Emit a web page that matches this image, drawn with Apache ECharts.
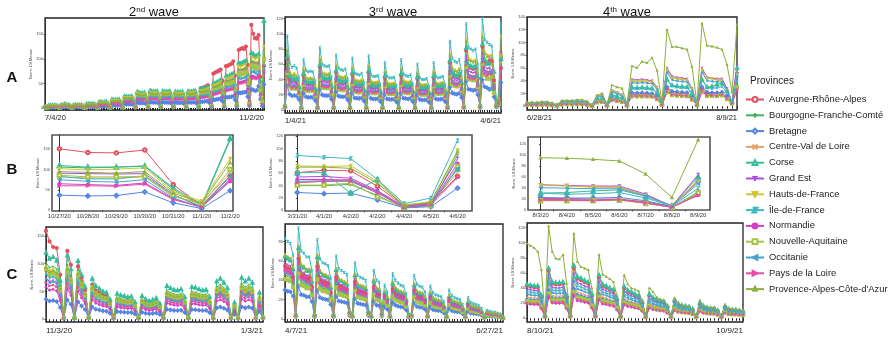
<!DOCTYPE html>
<html>
<head>
<meta charset="utf-8">
<script src="https://cdn.jsdelivr.net/npm/echarts@6/dist/echarts.min.js"></script>
<style>
  html, body { margin: 0; padding: 0; background: #fff; }
  #chart { width: 892px; height: 338px; }
</style>
</head>
<body>
<div id="chart"></div>
<script>
// provinces, colours, markers
const provinces = ['Auvergne-Rhône-Alpes', 'Bourgogne-Franche-Comté', 'Bretagne', 'Centre-Val de Loire', 'Corse',
  'Grand Est', 'Hauts-de-France', 'Île-de-France', 'Normandie', 'Nouvelle-Aquitaine', 'Occitanie',
  'Pays de la Loire', "Provence-Alpes-Côte-d'Azur"];
const colors = ['#e2505f', '#45b060', '#5585e2', '#e6a066', '#35bd9c', '#ad4ce4', '#cfc634', '#3fb8c0',
  '#d23fc4', '#a6c446', '#4aa2d0', '#e64ca6', '#8db03c'];
const symbols = ['emptyCircle', 'path://M5,0L5,10M0,5L10,5', 'emptyDiamond', 'path://M0,0L10,10M10,0L0,10',
  'emptyTriangle', 'path://M0,0L5,5L10,0M5,5L5,10', 'path://M0,0L10,0L5,9Z', 'path://M0,0L10,0L0,10L10,10',
  'circle', 'emptyRect', 'path://M10,0L0,5L10,10Z', 'path://M0,0L10,5L0,10Z', 'path://M0,10L5,0L10,10'];

// x tick labels
const a2Dates = ['7/4/20', '11/2/20'];
const a3Dates = ['1/4/21', '4/6/21'];
const a4Dates = ['6/28/21', '8/9/21'];
const b2Dates = ['10/27/20', '10/28/20', '10/29/20', '10/30/20', '10/31/20', '11/1/20', '11/2/20'];
const b3Dates = ['3/31/20', '4/1/20', '4/2/20', '4/2/20', '4/4/20', '4/5/20', '4/6/20'];
const b4Dates = ['8/3/20', '8/4/20', '8/5/20', '8/6/20', '8/7/20', '8/8/20', '8/9/20'];
const c2Dates = ['11/3/20', '1/3/21'];
const c3Dates = ['4/7/21', '6/27/21'];
const c4Dates = ['8/10/21', '10/9/21'];

// y tick labels
const yTicks50 = [0, 50, 100, 150];
const yTicks20 = [0, 20, 40, 60, 80, 100, 120];
const yTicks20b = [0, 20, 40, 60, 80, 100, 120, 140];
const yTicksC3 = [0, 20, 40, 60, 80];

// ---- 2nd wave, daily level of the top band and the share of each province ----
const a2Level = [3, 1,
  5, 5, 5, 5, 5, 4, 1,
  6, 6, 8, 6, 6, 4, 1,
  6, 6, 6, 6, 6, 4, 1,
  8, 8, 8, 8, 8, 6, 1,
  12, 12, 11, 12, 12, 8, 2,
  17, 16, 16, 16, 17, 12, 2,
  24, 23, 23, 23, 24, 17, 3,
  33, 31, 30, 30, 31, 22, 4,
  35, 34, 33, 33, 34, 24, 4,
  34, 33, 33, 33, 34, 24, 4,
  33, 32, 32, 32, 33, 23, 4,
  34, 33, 33, 34, 35, 24, 4,
  38, 38, 39, 40, 42, 29, 5,
  50, 50, 52, 54, 57, 40, 6,
  65, 64, 66, 68, 70, 49, 8,
  92, 90, 92, 94, 96, 67, 10,
  112];
const a2Share = [0.9, 0.96, 0.34, 0.74, 1.0, 0.83, 0.93, 0.74, 0.58, 0.76, 0.66, 0.55, 0.86];
// Auvergne-Rhône-Alpes from day 86 on
const a2AuvergneLate = [40, 41, 42, 44, 46, 32, 6,
  70, 72, 74, 76, 78, 55, 8,
  85, 86, 88, 90, 95, 66, 10,
  118, 120, 122, 120, 125, 88, 12,
  169];
// last week (10/27 - 11/2)
const b2Values = [
  [151, 142, 141, 148, 63, 11, 85],
  [106, 104, 106, 108, 51, 11, 173],
  [37, 35, 36, 45, 18, 4, 48],
  [82, 79, 79, 82, 33, 18, 91],
  [110, 106, 106, 109, 55, 14, 177],
  [91, 90, 89, 90, 38, 8, 83],
  [102, 99, 101, 104, 46, 22, 126],
  [83, 77, 77, 85, 38, 8, 85],
  [65, 63, 61, 67, 28, 8, 71],
  [86, 82, 82, 83, 36, 14, 100],
  [75, 71, 69, 75, 30, 6, 77],
  [60, 60, 59, 64, 26, 8, 75],
  [95, 93, 91, 95, 42, 18, 117]
];

// ---- 3rd wave ----
const a3Level = [8,
  97, 62, 56, 58, 55, 42, 5,
  66, 52, 50, 51, 50, 38, 5,
  82, 60, 58, 57, 58, 43, 5,
  72, 55, 53, 52, 54, 40, 5,
  68, 48, 47, 46, 48, 36, 5,
  71, 46, 44, 44, 45, 34, 5,
  62, 44, 42, 42, 43, 32, 5,
  66, 47, 45, 44, 46, 34, 5,
  60, 42, 40, 40, 41, 31, 5,
  62, 44, 42, 43, 44, 33, 6,
  90, 68, 64, 62, 66, 50, 7,
  113, 82, 80, 78, 80, 60, 8,
  120, 92];
const a3Share = [0.69, 0.5, 0.33, 0.55, 0.72, 0.62, 0.82, 1.0, 0.56, 0.5, 0.55, 0.52, 0.8];
const b3Values = [
  [61, 65, 64, 39, 7, 12, 55],
  [40, 40, 42, 24, 4, 8, 90],
  [29, 27, 28, 17, 4, 6, 36],
  [45, 47, 50, 30, 6, 10, 62],
  [61, 61, 28, 50, 5, 12, 67],
  [54, 55, 52, 32, 6, 11, 84],
  [72, 71, 72, 47, 9, 14, 97],
  [89, 86, 84, 50, 11, 20, 113],
  [50, 50, 49, 30, 5, 9, 76],
  [41, 41, 44, 22, 5, 8, 71],
  [47, 48, 48, 29, 5, 8, 68],
  [45, 47, 47, 28, 5, 9, 53],
  [70, 70, 68, 44, 8, 13, 95]
];

// ---- 4th wave ----
const a4Level = [5, 5, 5, 6, 6, 4, 2,
  7, 8, 8, 8, 8, 6, 1,
  16, 18, 3, 25, 22, 18, 3,
  42, 41, 42, 41, 40, 30, 5,
  60, 47, 45, 44, 43, 28, 4,
  60];
const a4Share = [0.45, 0.4, 0.5, 0.95, 0.7, 1.0, 0.95, 0.68, 0.4, 0.37, 0.88, 0.38, 1.5];
const a4Paca = [6, 6, 6, 7, 7, 5, 2,
  9, 9, 9, 10, 10, 8, 2,
  17, 20, 3, 33, 30, 28, 4,
  63, 60, 70, 68, 76, 56, 6,
  120, 93, 93, 91, 89, 62, 4,
  130];
const b4Values = [
  [20, 20, 19, 19, 14, 5, 28],
  [17, 17, 17, 18, 12, 4, 32],
  [22, 21, 21, 22, 16, 5, 52],
  [45, 44, 41, 41, 26, 6, 55],
  [30, 31, 34, 36, 24, 7, 60],
  [45, 44, 43, 43, 28, 6, 64],
  [44, 43, 41, 40, 25, 6, 50],
  [30, 28, 29, 31, 21, 6, 39],
  [18, 18, 17, 18, 12, 4, 27],
  [16, 16, 16, 17, 11, 4, 30],
  [40, 39, 38, 38, 25, 6, 47],
  [17, 17, 16, 18, 12, 4, 26],
  [95, 94, 92, 89, 65, 22, 128]
];

// ---- row C ----
const c2Level = [120, 109, 112, 106, 70, 3,
  115, 90, 3, 105, 80, 58, 3,
  73, 60, 55, 50, 48, 36, 3,
  46, 43, 42, 40, 41, 31, 3,
  42, 36, 33, 35, 38, 28, 3,
  60, 56, 53, 52, 54, 40, 3,
  58, 57, 54, 52, 53, 40, 3,
  68, 73, 66, 56, 3, 30, 3,
  75, 68, 73, 66, 3, 48, 4];
const c2Share = [0.9, 0.85, 0.3, 0.7, 1.0, 0.62, 0.8, 0.68, 0.48, 0.75, 0.6, 0.55, 0.78];
const c2Auvergne = [159, 140, 130, 128, 80, 3,
  123, 98, 3, 95, 75, 52, 3,
  62, 52, 48, 44, 42, 31, 3,
  36, 34, 33, 32, 33, 25, 2,
  33, 30, 28, 29, 31, 23, 2,
  40, 38, 36, 35, 37, 28, 2,
  40, 39, 37, 36, 37, 28, 2,
  45, 48, 44, 38, 2, 22, 2,
  50, 46, 48, 44, 2, 32, 3];

const c3Level = [83, 80, 78, 66, 6,
  94, 70, 68, 64, 64, 50, 6,
  82, 62, 58, 57, 55, 42, 6,
  65, 52, 50, 48, 46, 10, 5,
  58, 45, 43, 42, 40, 10, 5,
  50, 40, 38, 8, 35, 28, 5,
  47, 40, 37, 35, 34, 26, 5,
  6, 45, 36, 34, 33, 28, 5,
  34, 27, 25, 24, 23, 18, 4,
  30, 24, 22, 21, 20, 15, 4,
  22, 17, 16, 15, 14, 11, 3,
  9, 8, 7, 7, 6, 5, 2];
const c3Share = [0.66, 0.55, 0.36, 0.6, 0.78, 0.7, 0.8, 1.0, 0.62, 0.5, 0.58, 0.6, 0.8];

const c4Level = [45, 44, 43, 43, 30, 4,
  66, 48, 47, 47, 48, 30, 4,
  70, 55, 53, 50, 48, 32, 4,
  57, 45, 43, 40, 38, 26, 3,
  42, 37, 35, 32, 30, 22, 3,
  32, 27, 25, 23, 22, 16, 3,
  24, 19, 17, 16, 15, 12, 3,
  20, 16, 14, 13, 13, 10, 3,
  16, 12, 11, 11, 10, 9];
const c4Share = [0.95, 0.5, 0.55, 0.62, 1.0, 0.85, 0.5, 0.78, 0.42, 0.5, 0.7, 0.45, 1.5];
const c4Paca = [99, 96, 93, 88, 64, 4,
  122, 88, 79, 78, 84, 46, 5,
  112, 75, 68, 66, 64, 40, 5,
  84, 58, 55, 52, 48, 30, 4,
  57, 45, 40, 38, 36, 22, 3,
  40, 35, 28, 25, 24, 16, 3,
  27, 20, 17, 16, 15, 12, 3,
  24, 17, 15, 14, 14, 10, 3,
  18, 13, 12, 12, 11, 10];

// 按省份比例换算
const scaled = (level, share) => level.map((v) => Math.round(v * share * 10) / 10);

const a2Series = provinces.map((_, p) => {
  let early = scaled(a2Level, a2Share[p]);
  if (p === 0) early = early.slice(0, 86).concat(a2AuvergneLate);
  return early.concat(b2Values[p]);
});
const a3Series = provinces.map((_, p) => scaled(a3Level, a3Share[p]).concat(b3Values[p]));
const a4Series = provinces.map((_, p) => (p === 12 ? a4Paca : scaled(a4Level, a4Share[p])).concat(b4Values[p]));
const c2Series = provinces.map((_, p) => (p === 0 ? c2Auvergne : scaled(c2Level, c2Share[p])));
const c3Series = provinces.map((_, p) => scaled(c3Level, c3Share[p]));
const c4Series = provinces.map((_, p) => (p === 12 ? c4Paca : scaled(c4Level, c4Share[p])));

// panel layout
const panels = [
  { data: a2Series, dates: a2Dates, box: [45, 18, 219, 92], y: [-4, 183], ticks: yTicks50, row: 'A' },
  { data: a3Series, dates: a3Dates, box: [285, 17, 216, 96], y: [-4, 122], ticks: yTicks20, row: 'A' },
  { data: a4Series, dates: a4Dates, box: [527, 17, 210, 93], y: [-6, 140], ticks: yTicks20b, row: 'A' },
  { data: b2Values, dates: b2Dates, box: [52, 135, 181, 76], y: [-2, 185], ticks: yTicks50, row: 'B', x: [-0.26, 6.1] },
  { data: b3Values, dates: b3Dates, box: [285, 135, 187, 76], y: [-1, 122], ticks: yTicks20, row: 'B', x: [-0.46, 6.54] },
  { data: b4Values, dates: b4Dates, box: [528, 137, 182, 73], y: [-1, 133], ticks: yTicks20, row: 'B', x: [-0.48, 6.45] },
  { data: c2Series, dates: c2Dates, box: [46, 227, 217, 95], y: [-5, 166], ticks: yTicks50, row: 'C' },
  { data: c3Series, dates: c3Dates, box: [285, 224, 218, 98], y: [-3, 98], ticks: yTicksC3, row: 'C' },
  { data: c4Series, dates: c4Dates, box: [527, 223, 216, 99], y: [-5, 126], ticks: yTicks20, row: 'C' }
];

const font = 'Liberation Sans, Arial, sans-serif';
const grid = [], xAxis = [], yAxis = [], series = [];

panels.forEach((pn, k) => {
  const isShort = pn.row === 'B';
  const n = pn.data[0].length;
  grid.push({
    left: pn.box[0], top: pn.box[1], width: pn.box[2], height: pn.box[3],
    show: true, borderColor: isShort ? '#555' : '#222', borderWidth: isShort ? 1.6 : 1.3,
    containLabel: false
  });
  const dayTicks = [];
  for (let i = 0; i < n; i++) dayTicks.push(i);
  if (isShort) {
    xAxis.push({
      type: 'value', gridIndex: k, min: pn.x[0], max: pn.x[1],
      axisLine: { show: false }, splitLine: { show: false },
      axisTick: { show: true, customValues: [0.5, 1.5, 2.5, 3.5, 4.5, 5.5], length: 2, lineStyle: { color: '#555' } },
      axisLabel: {
        customValues: dayTicks, fontSize: 5.8, color: '#333', margin: 2, fontFamily: font,
        formatter: (v) => pn.dates[Math.round(v)]
      }
    });
  } else {
    xAxis.push({
      type: 'value', gridIndex: k, min: 0, max: n - 1,
      axisLine: { show: false }, splitLine: { show: false },
      axisTick: { show: true, customValues: dayTicks, length: 2.5, lineStyle: { color: '#222', width: 1 } },
      axisLabel: {
        customValues: [0, n - 1], fontSize: pn.row === 'C' ? 8 : 7.5, color: '#222',
        margin: pn.row === 'C' ? 5 : 4, fontFamily: font,
        alignMinLabel: 'left', alignMaxLabel: 'right',
        formatter: (v) => (v === 0 ? pn.dates[0] : pn.dates[1])
      }
    });
  }
  yAxis.push({
    type: 'value', gridIndex: k, min: pn.y[0], max: pn.y[1],
    name: 'Norm. LS Means', nameLocation: 'middle', nameGap: 10,
    nameTextStyle: { fontSize: 4, color: '#444', fontFamily: font },
    axisLine: { show: true, lineStyle: { color: '#333' } },
    splitLine: { show: false },
    axisTick: { show: true, customValues: pn.ticks, length: 1.5, lineStyle: { color: '#444' } },
    axisLabel: { customValues: pn.ticks, fontSize: 4, color: '#444', margin: 2, fontFamily: font }
  });
  pn.data.forEach((vals, p) => {
    series.push({
      name: provinces[p], type: 'line', xAxisIndex: k, yAxisIndex: k,
      data: vals.map((v, i) => [i, v]),
      symbol: symbols[p], symbolSize: isShort ? 3.5 : 2.2, showAllSymbol: true,
      lineStyle: { width: 1, color: colors[p] },
      itemStyle: { color: colors[p], borderColor: colors[p], borderWidth: 0.7 },
      emphasis: { disabled: true }, silent: true
    });
  });
});

const chart = echarts.init(document.getElementById('chart'), null, { renderer: 'canvas' });
chart.setOption({
  animation: false,
  backgroundColor: '#fff',
  grid, xAxis, yAxis, series,
  legend: {
    data: provinces, orient: 'vertical', left: 740, top: 90,
    itemWidth: 18, itemHeight: 6, itemGap: 6.8,
    textStyle: { fontSize: 9.4, color: '#222', fontFamily: font },
    selectedMode: false
  },
  graphic: [
    { type: 'text', x: 154, y: 12, style: { text: '{a|2}{b|nd}{a| wave}', align: 'center', verticalAlign: 'middle', fill: '#111',
      rich: { a: { fontSize: 13, fontFamily: font }, b: { fontSize: 8, fontFamily: font, verticalAlign: 'top' } } } },
    { type: 'text', x: 393, y: 12, style: { text: '{a|3}{b|rd}{a| wave}', align: 'center', verticalAlign: 'middle', fill: '#111',
      rich: { a: { fontSize: 13, fontFamily: font }, b: { fontSize: 8, fontFamily: font, verticalAlign: 'top' } } } },
    { type: 'text', x: 627, y: 12, style: { text: '{a|4}{b|th}{a| wave}', align: 'center', verticalAlign: 'middle', fill: '#111',
      rich: { a: { fontSize: 13, fontFamily: font }, b: { fontSize: 8, fontFamily: font, verticalAlign: 'top' } } } },
    { type: 'text', x: 12, y: 78, style: { text: 'A', align: 'center', verticalAlign: 'middle', fontSize: 15, fontWeight: 'bold', fontFamily: font, fill: '#111' } },
    { type: 'text', x: 12, y: 170, style: { text: 'B', align: 'center', verticalAlign: 'middle', fontSize: 15, fontWeight: 'bold', fontFamily: font, fill: '#111' } },
    { type: 'text', x: 12, y: 275, style: { text: 'C', align: 'center', verticalAlign: 'middle', fontSize: 15, fontWeight: 'bold', fontFamily: font, fill: '#111' } },
    { type: 'text', x: 750, y: 81, style: { text: 'Provinces', align: 'left', verticalAlign: 'middle', fontSize: 10, fontFamily: font, fill: '#222' } }
  ]
});
</script>
</body>
</html>
